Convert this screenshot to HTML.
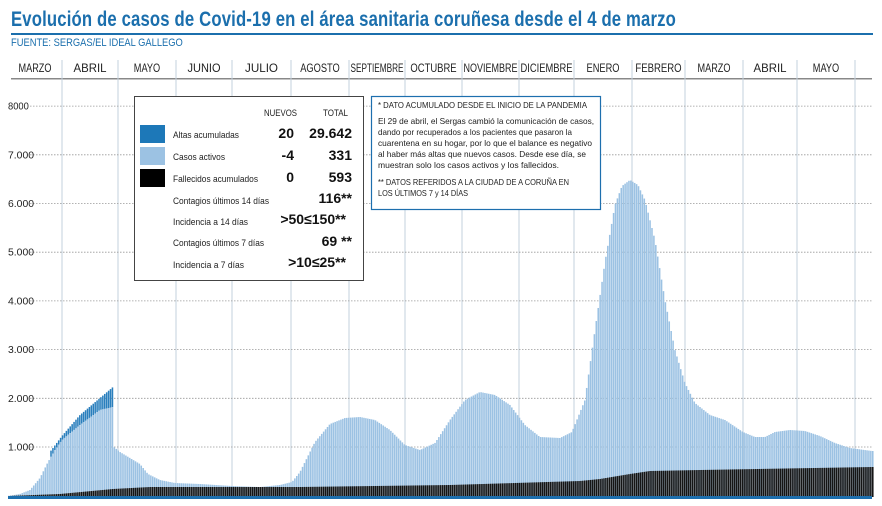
<!DOCTYPE html>
<html><head><meta charset="utf-8"><style>
body{margin:0;background:#fff;width:882px;height:506px;overflow:hidden;font-family:"Liberation Sans",sans-serif}
svg{position:absolute;left:0;top:0}
.t{position:absolute;white-space:nowrap}
</style></head><body>
<svg id="s" width="882" height="506"></svg>
<div class="t" style="left:11px;top:8px;font-size:21px;font-weight:bold;color:#1b6fad;transform:scaleX(0.795);transform-origin:0 0;letter-spacing:0.2px">Evolución de casos de Covid-19 en el área sanitaria coruñesa desde el 4 de marzo</div>
<div class="t" style="left:11px;top:37px;font-size:11px;color:#1b6fad;transform:scaleX(0.85);transform-origin:0 0">FUENTE: SERGAS/EL IDEAL GALLEGO</div>
<script>
const s=document.getElementById('s');let h='';
h+='<rect x="11" y="33" width="862" height="2" fill="#1b6fad"/>';
const lines=[62,118,176,232,291,349,405,462,519,574,632,685,743,797,855];
const months=['MARZO','ABRIL','MAYO','JUNIO','JULIO','AGOSTO','SEPTIEMBRE','OCTUBRE','NOVIEMBRE','DICIEMBRE','ENERO','FEBRERO','MARZO','ABRIL','MAYO'];
let prev=8;
months.forEach((m,i)=>{let e=lines[i];let c=(prev+e)/2;
 h+=`<text x="${c}" y="72" font-size="12" text-anchor="middle" fill="#222" font-family="Liberation Sans" textLength="${Math.min(m.length*6.6,e-prev-3)}" lengthAdjust="spacingAndGlyphs">${m}</text>`;prev=e;});
h+='<rect x="11" y="78" width="861" height="1.5" fill="#888"/>';
lines.forEach(x=>h+=`<line x1="${x}" y1="60" x2="${x}" y2="497" stroke="#c3d0dc" stroke-width="1"/>`);
for(let k=1;k<=8;k++){let y=495.7-k*48.7;
 h+=`<line x1="30" y1="${y}" x2="872" y2="${y}" stroke="#999" stroke-width="0.8" stroke-dasharray="1.5,1.5"/>`;
 let lab=k==8?'8000':k+'.000';
 h+=`<text x="8" y="${y+3.5}" font-size="10" fill="#222" textLength="${lab.length*5.2}" lengthAdjust="spacingAndGlyphs">${lab}</text>`;}
function interp(p,x){if(x<=p[0][0])return p[0][1];for(let i=1;i<p.length;i++){if(x<=p[i][0]){let a=p[i-1],b=p[i];return a[1]+(b[1]-a[1])*(x-a[0])/(b[0]-a[0]);}}return p[p.length-1][1];}
const act=[[8,496],[20,494],[30,490],[40,478],[48,462],[55,450],[62,440],[80,425],[100,410],[113,407],[114,447],[120,452],[130,458],[140,464],[148,474],[160,480],[175,483],[200,484],[232,486],[260,487],[280,485],[292,482],[300,472],[315,442],[330,424],[345,418],[360,417],[375,420],[390,430],[405,445],[420,450],[435,443],[450,420],[465,400],[480,392],[495,395],[510,405],[525,425],[540,437],[560,438],[572,432],[585,400],[595,330],[605,262],[615,205],[622,186],[630,180],[638,185],[645,200],[655,240],[665,300],[675,350],[685,383],[695,403],[710,415],[725,420],[743,432],[755,437],[765,437],[775,432],[790,430],[805,431],[820,436],[835,443],[850,448],[872,451]];
const alt=[[50,452],[62,436],[80,415],[100,398],[113,387]];
const dead=[[8,496],[60,494],[113,489],[150,487],[300,487],[450,485],[580,481],[600,479],[630,474],[650,471],[700,470],[872,467]];
const bw=1.92;
for(let x=8;x<872;x+=bw){let c=x+0.8;
 let ya=interp(act,c);
 if(c>=50&&c<=113.5){let yd=interp(alt,c);h+=`<rect x="${x}" y="${yd}" width="1.55" height="${ya-yd}" fill="#2a7fbd"/>`;}
 h+=`<rect x="${x}" y="${ya}" width="1.55" height="${497-ya}" fill="#9cc2e3"/>`;
 let yb=interp(dead,c);h+=`<rect x="${x}" y="${yb}" width="1.55" height="${497-yb}" fill="#151515"/>`;}
h+='<rect x="8" y="496" width="864" height="3" fill="#1d6fae"/>';
h+='<rect x="134.5" y="96.5" width="229" height="184" fill="#fff" stroke="#444" stroke-width="1"/>';
h+='<rect x="140" y="125" width="25" height="18" fill="#1d78b8"/><rect x="140" y="147" width="25" height="18" fill="#9cc2e3"/><rect x="140" y="169" width="25" height="18" fill="#000"/>';
const sm=(x,y,t,w)=>`<text x="${x}" y="${y}" font-size="9" fill="#222" textLength="${w}" lengthAdjust="spacingAndGlyphs">${t}</text>`;
const bg=(x,y,t,w)=>`<text x="${x}" y="${y}" font-size="14" font-weight="bold" fill="#111" text-anchor="end">${t}</text>`;
h+=sm(264,116,'NUEVOS',33)+sm(323,116,'TOTAL',25);
h+=sm(173,138,'Altas acumuladas',66)+sm(173,160,'Casos activos',52)+sm(173,182,'Fallecidos acumulados',85);
h+=sm(173,204,'Contagios últimos 14 días',96)+sm(173,225,'Incidencia a 14 días',75)+sm(173,246,'Contagios últimos 7 días',91)+sm(173,268,'Incidencia a 7 días',71);
h+=bg(294,138,'20')+bg(352,138,'29.642')+bg(294,160,'-4')+bg(352,160,'331')+bg(294,182,'0')+bg(352,182,'593');
h+=bg(352,203,'116**')+bg(346,224,'&gt;50≤150**')+bg(352,246,'69 **')+bg(346,267,'&gt;10≤25**');
h+='<rect x="371.5" y="96.5" width="229" height="113" fill="#fff" stroke="#1d6fae" stroke-width="1.2"/>';
const nt=[[108,'* DATO ACUMULADO DESDE EL INICIO DE LA PANDEMIA',209],[124,'El 29 de abril, el Sergas cambió la comunicación de casos,',216],[135,'dando por recuperados a los pacientes que pasaron la',194],[146,'cuarentena en su hogar, por lo que el balance es negativo',214],[157,'al haber más altas que nuevos casos. Desde ese día, se',208],[168,'muestran solo los casos activos y los fallecidos.',181],[185,'** DATOS REFERIDOS A LA CIUDAD DE A CORUÑA EN',191],[196,'LOS ÚLTIMOS 7 y 14 DÍAS',90]];
nt.forEach(n=>h+=sm(378,n[0],n[1],n[2]).replace('font-size="9"','font-size="8.5"'));
s.innerHTML=h;
</script>
</body></html>
